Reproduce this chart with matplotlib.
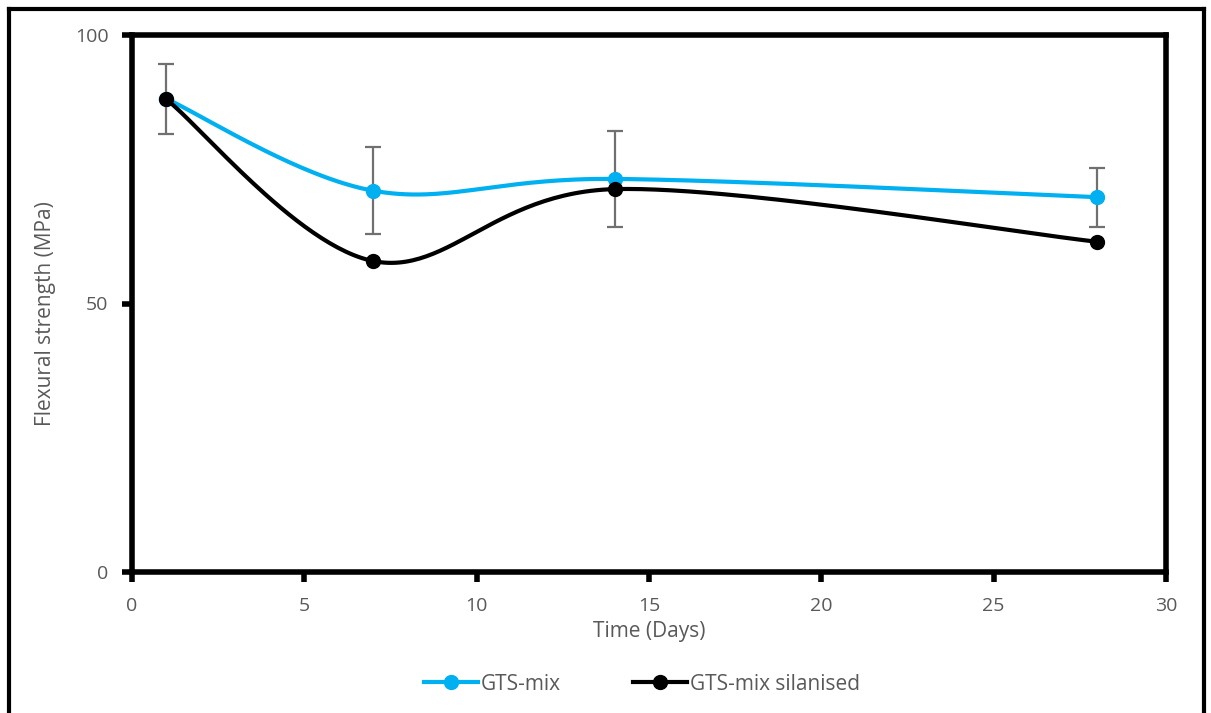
import numpy as np
import matplotlib.pyplot as plt
from matplotlib.lines import Line2D

# data
days = [1, 7, 14, 28]
gts_mix = [88.1, 71.0, 73.2, 69.8]
gts_mix_err = [6.5, 8.1, 8.9, 5.5]
gts_silanised = [88.0, 57.9, 71.3, 61.5]

series_names = ['GTS-mix', 'GTS-mix silanised']
blue = '#00B0F0'
grey_txt = '#595959'


def smooth(x, y, n=60, tension=1 / 6):
    """Excel-style smoothed line: cubic Bezier segments through the points."""
    x = np.asarray(x, float)
    y = np.asarray(y, float)
    pts = np.column_stack([x, y])
    out = [pts[0]]
    t = np.linspace(0, 1, n)[1:, None]
    for i in range(len(pts) - 1):
        p0 = pts[i - 1] if i > 0 else pts[i]
        p1, p2 = pts[i], pts[i + 1]
        p3 = pts[i + 2] if i + 2 < len(pts) else pts[i + 1]
        c1 = p1 + (p2 - p0) * tension
        c2 = p2 - (p3 - p1) * tension
        seg = ((1 - t) ** 3) * p1 + 3 * ((1 - t) ** 2) * t * c1 + 3 * (1 - t) * t ** 2 * c2 + t ** 3 * p2
        out.extend(seg)
    out = np.array(out)
    return out[:, 0], out[:, 1]


plt.rcParams['font.family'] = ['Open Sans', 'DejaVu Sans']

fig = plt.figure(figsize=(12.11, 7.13), dpi=100)
ax = fig.add_axes([132 / 1211, 1 - 572 / 713, (1166 - 132) / 1211, (572 - 35) / 713])

# GTS-mix
sx, sy = smooth(days, gts_mix)
ax.plot(sx, sy, color=blue, lw=3, zorder=3)
ax.errorbar(days, gts_mix, yerr=gts_mix_err, fmt='none', ecolor='#707070',
            elinewidth=1.6, capsize=6, capthick=1.6, zorder=2)
ax.plot(days, gts_mix, 'o', color=blue, ms=10, zorder=4)

# GTS-mix silanised
sx, sy = smooth(days, gts_silanised)
ax.plot(sx, sy, color='black', lw=3, zorder=5)
ax.plot(days, gts_silanised, 'o', color='black', ms=10, zorder=6)

ax.set_xlim(0, 30)
ax.set_ylim(0, 100)
ax.set_xticks(range(0, 31, 5))
ax.set_yticks([0, 50, 100])
for s in ax.spines.values():
    s.set_linewidth(4)
ax.tick_params(axis='both', which='major', width=4, length=7, direction='out',
               labelsize=14, labelcolor=grey_txt, color='black')
ax.tick_params(axis='x', pad=11)
ax.tick_params(axis='y', pad=10)

ax.set_xlabel('Time (Days)', fontsize=15, color=grey_txt)
ax.set_ylabel('Flexural strength (MPa)', fontsize=15, color=grey_txt)
ax.xaxis.set_label_coords(0.5, -(632 - 572) / 537, transform=ax.transAxes)
ax.yaxis.set_label_coords(-(132 - 46) / 1034, (572 - 314) / 537, transform=ax.transAxes)
ax.xaxis.label.set_va('center')
ax.yaxis.label.set_va('center')

handles = [
    Line2D([], [], color=blue, lw=3, marker='o', ms=10),
    Line2D([], [], color='black', lw=3, marker='o', ms=10),
]
leg = fig.legend(handles, series_names, loc='center', bbox_to_anchor=(0.53, 1 - 684 / 713),
                 ncol=2, frameon=False, fontsize=15, handlelength=2.6, handletextpad=0.1,
                 columnspacing=3.5)
for t in leg.get_texts():
    t.set_color(grey_txt)

# outer frame (left, top, right edges)
fx0, fx1, fy1 = 9 / 1211, 1 - 7 / 1211, 1 - 9 / 713
fig.add_artist(Line2D([fx0, fx0], [0, fy1], color='black', lw=3))
fig.add_artist(Line2D([fx0, fx1], [fy1, fy1], color='black', lw=3))
fig.add_artist(Line2D([fx1, fx1], [0, fy1], color='black', lw=3))

fig.savefig('out.png', dpi=100)
